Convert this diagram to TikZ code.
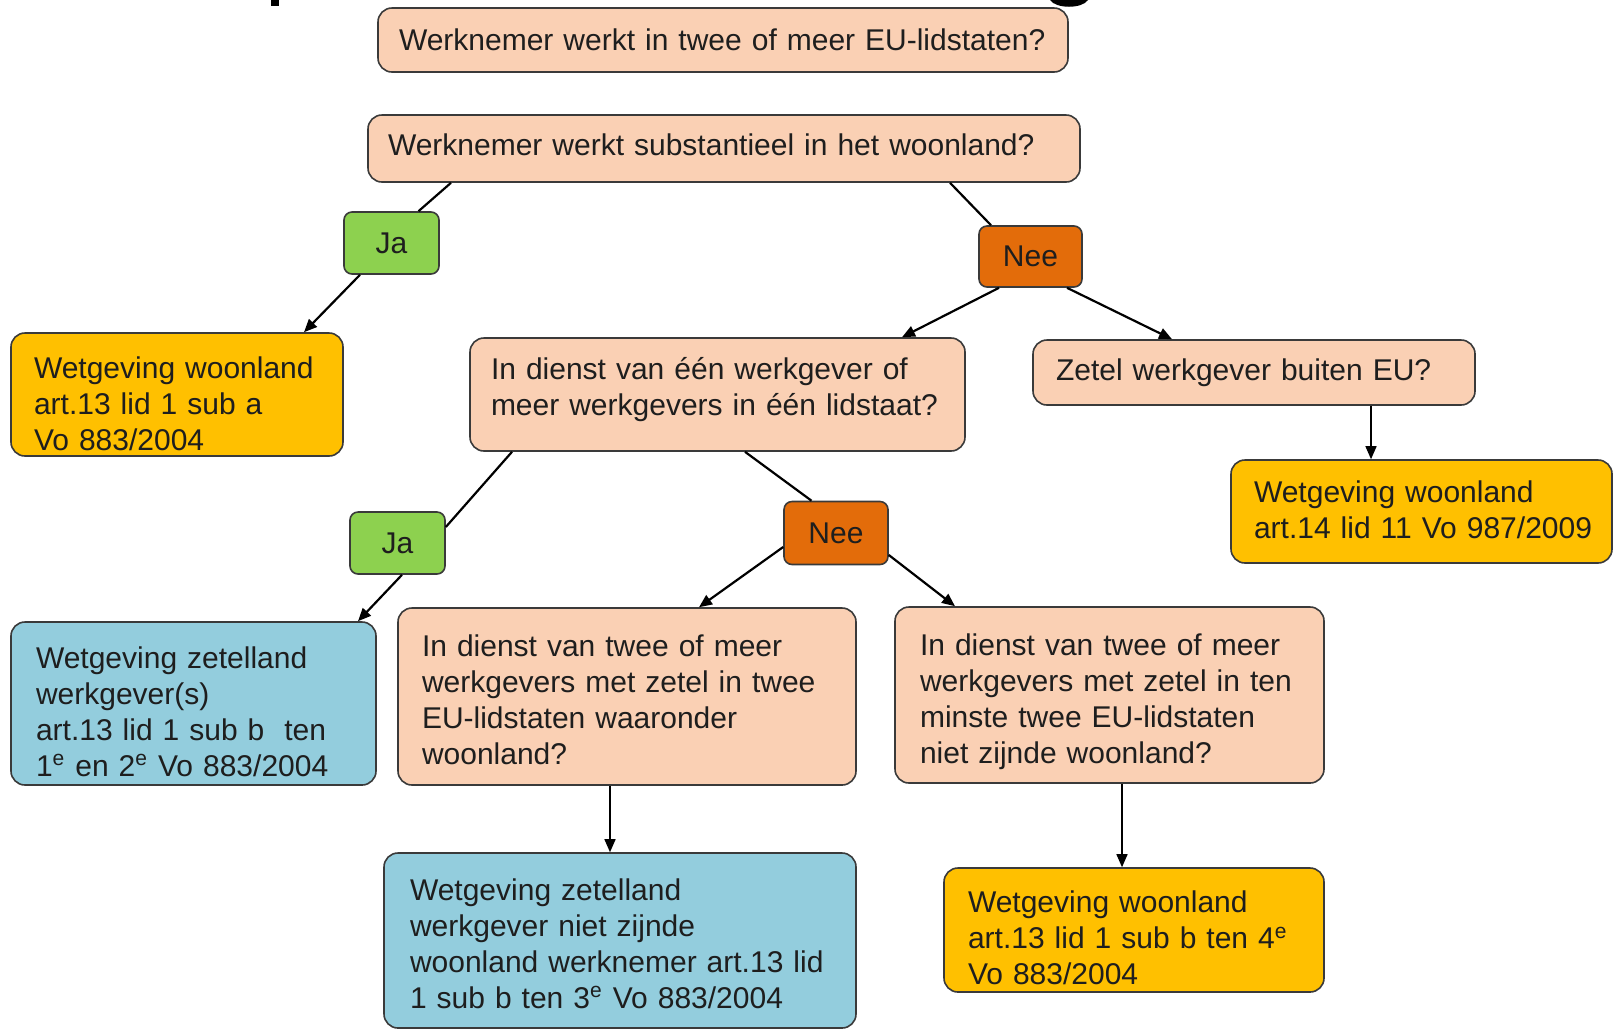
\documentclass[tikz,border=0pt]{standalone}
\usepackage{fontspec}
\setmainfont{Liberation Sans}
\usetikzlibrary{calc,arrows.meta}
\definecolor{peach}{HTML}{FAD0B4}
\definecolor{jagreen}{HTML}{8DD14F}
\definecolor{neeorange}{HTML}{E36C0A}
\definecolor{gold}{HTML}{FFC000}
\definecolor{lblue}{HTML}{93CDDD}
\definecolor{edgec}{HTML}{3A3A3A}
\definecolor{ink}{HTML}{1E1E1E}
\newcommand\lne[1]{\mbox{#1}}
\begin{document}
\begin{tikzpicture}[x=0.5pt,y=-0.5pt,
  box/.style={draw=edgec, line width=0.8pt, rounded corners=7pt, inner ysep=0pt,
    align=left, font=\fontsize{15}{18}\selectfont, text=ink},
  q/.style={box, fill=peach},
  res/.style={box, fill=gold},
  blu/.style={box, fill=lblue},
  ans/.style={box, rounded corners=4pt, align=center, minimum width=47.5pt, minimum height=31pt, inner xsep=0pt},
  ja/.style={ans, fill=jagreen},
  nee/.style={ans, fill=neeorange},
  con/.style={line width=1.1pt, black},
  arr/.style={con, -{Triangle[length=6.5pt,width=5.5pt]}},
  varr/.style={line width=0.7pt, black, -{Triangle[length=6.5pt,width=5.5pt]}},
  txtup/.style={execute at end node={\endgraf\vspace*{#1}}}
]
\useasboundingbox (0,0) rectangle (1615,1030);
\fill[white] (0,0) rectangle (1615,1030);
% fragments of a cropped title
\fill[black] (271,0) rectangle (279,6);
\fill[black] (1050,0) .. controls (1056,9) and (1082,9) .. (1088,0) -- cycle;

\node[q, minimum width=345pt, minimum height=32pt, text width=324pt, inner xsep=10.5pt] (q1) at (723,40)
  {\lne{Werknemer werkt in twee of meer EU-lidstaten?}};
\node[q, minimum width=356pt, minimum height=33.5pt, text width=336pt, inner xsep=10pt, txtup=4pt] (q2) at (724,148.5)
  {\lne{Werknemer werkt substantieel in het woonland?}};
\node[ja] (ja1) at (391.5,243) {Ja};
\node[nee, minimum width=51.5pt, minimum height=30.5pt] (nee1) at (1030.5,256.5) {Nee};
\node[res, minimum width=166pt, minimum height=61.5pt, text width=143pt, inner xsep=11.5pt, txtup=-9pt] (r1) at (177,394.5)
  {\lne{Wetgeving woonland}\\\lne{art.13 lid 1 sub a}\\\lne{Vo 883/2004}};
\node[q, minimum width=247.5pt, minimum height=56.5pt, text width=226.5pt, inner xsep=10.5pt, txtup=5pt] (q3) at (717.5,394.5)
  {\lne{In dienst van één werkgever of}\\\lne{meer werkgevers in één lidstaat?}};
\node[q, minimum width=221pt, minimum height=32.5pt, text width=198pt, inner xsep=11.5pt] (q4) at (1254,372.5)
  {\lne{Zetel werkgever buiten EU?}};
\node[res, minimum width=190.5pt, minimum height=51.5pt, text width=167.5pt, inner xsep=11.5pt, txtup=2pt] (r2) at (1421.5,511.5)
  {\lne{Wetgeving woonland}\\\lne{art.14 lid 11 Vo 987/2009}};
\node[ja] (ja2) at (397.5,543) {Ja};
\node[nee, minimum width=52pt, minimum height=31.5pt] (nee2) at (836,533) {Nee};
\node[blu, minimum width=182.5pt, minimum height=81.5pt, text width=157.5pt, inner xsep=12.5pt, txtup=-8pt] (b1) at (193.5,703.5)
  {\lne{Wetgeving zetelland}\\\lne{werkgever(s)}\\\lne{art.13 lid 1 sub b\ \ ten}\\\lne{1\textsuperscript{e} en 2\textsuperscript{e} Vo 883/2004}};
\node[q, minimum width=229pt, minimum height=88.5pt, text width=205pt, inner xsep=12pt, txtup=-3pt] (q5) at (627,696.5)
  {\lne{In dienst van twee of meer}\\\lne{werkgevers met zetel in twee}\\\lne{EU-lidstaten waaronder}\\\lne{woonland?}};
\node[q, minimum width=214.5pt, minimum height=88pt, text width=189.5pt, inner xsep=12.5pt, txtup=-7pt] (q6) at (1109.5,695)
  {\lne{In dienst van twee of meer}\\\lne{werkgevers met zetel in ten}\\\lne{minste twee EU-lidstaten}\\\lne{niet zijnde woonland?}};
\node[blu, minimum width=236pt, minimum height=87.5pt, text width=210pt, inner xsep=13pt, txtup=-3pt] (b2) at (620,940.5)
  {\lne{Wetgeving zetelland}\\\lne{werkgever niet zijnde}\\\lne{woonland werknemer art.13 lid}\\\lne{1 sub b ten 3\textsuperscript{e} Vo 883/2004}};
\node[res, minimum width=190pt, minimum height=62pt, text width=166pt, inner xsep=12pt, txtup=-8pt] (r3) at (1134,930)
  {\lne{Wetgeving woonland}\\\lne{art.13 lid 1 sub b ten 4\textsuperscript{e}}\\\lne{Vo 883/2004}};

% connectors
\draw[con] ($(q2.south)+(-273,0)$) -- ($(ja1.north)+(27,0)$);
\draw[arr] ($(ja1.south)+(-31.5,0)$) -- ($(r1.north)+(127,0)$);
\draw[con] ($(q2.south)+(226,0)$) -- ($(nee1.north)+(-39.5,0)$);
\draw[arr] ($(nee1.south)+(-31.5,0)$) -- ($(q3.north)+(184.5,0)$);
\draw[arr] ($(nee1.south)+(36.5,0)$) -- ($(q4.north)+(-82,0)$);
\draw[varr] ($(q4.south)+(117,0)$) -- ($(r2.north)+(-50.5,0)$);
\draw[con] ($(q3.south)+(-205.5,0)$) -- ($(ja2.east)+(0,-16)$);
\draw[arr] ($(ja2.south)+(4.5,0)$) -- ($(b1.north)+(164.5,0)$);
\draw[con] ($(q3.south)+(27.5,0)$) -- ($(nee2.north)+(-24.5,0)$);
\draw[arr] ($(nee2.west)+(0,14)$) -- ($(q5.north)+(72,0)$);
\draw[arr] ($(nee2.east)+(0,22)$) -- ($(q6.north)+(-154.5,0)$);
\draw[varr] ($(q5.south)+(-17,0)$) -- ($(b2.north)+(-10,0)$);
\draw[varr] ($(q6.south)+(12.5,0)$) -- ($(r3.north)+(-12,0)$);
\end{tikzpicture}
\end{document}
